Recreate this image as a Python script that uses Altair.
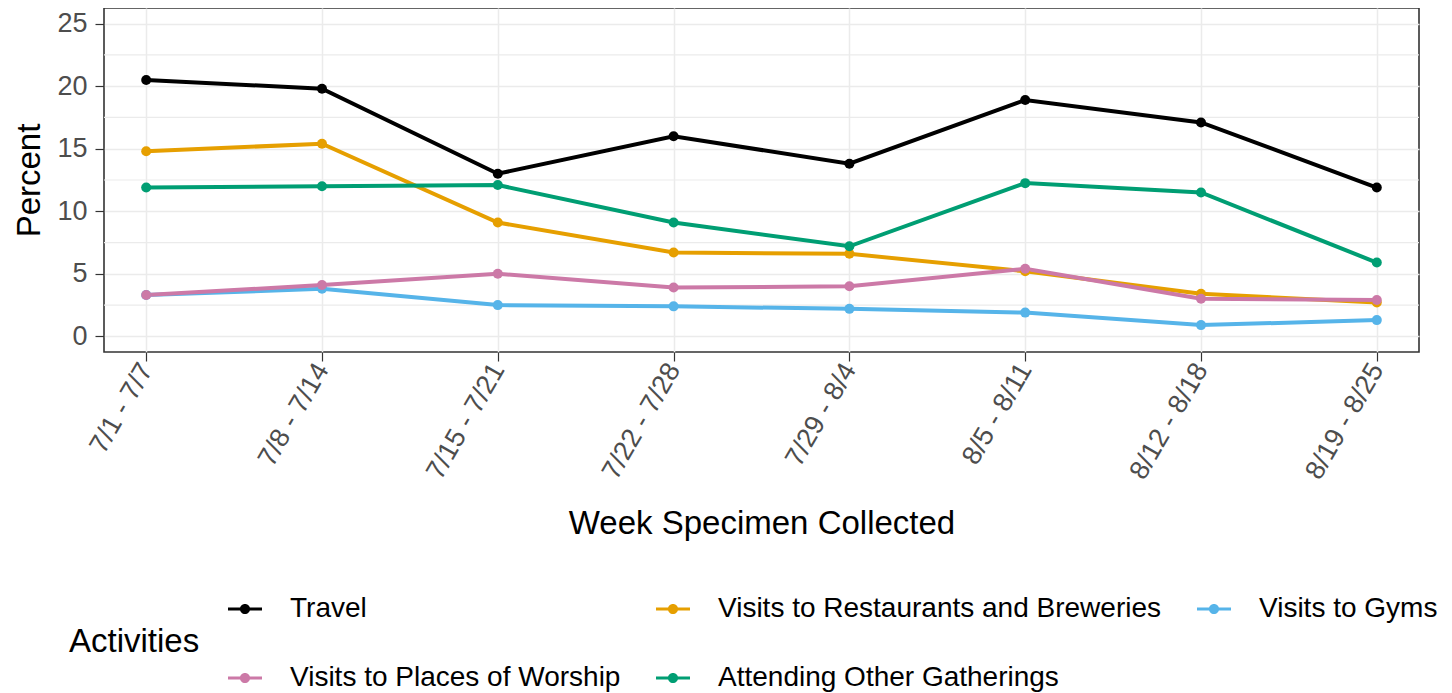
import altair as alt
import pandas as pd

weeks = ["7/1 - 7/7", "7/8 - 7/14", "7/15 - 7/21", "7/22 - 7/28",
         "7/29 - 8/4", "8/5 - 8/11", "8/12 - 8/18", "8/19 - 8/25"]

activities = ["Travel", "Visits to Restaurants and Breweries", "Visits to Gyms",
              "Visits to Places of Worship", "Attending Other Gatherings"]
colors = ["#000000", "#E69F00", "#56B4E9", "#CC79A7", "#009E73"]

travel = [20.5, 19.8, 13.0, 16.0, 13.8, 18.9, 17.1, 11.9]
restaurants = [14.8, 15.4, 9.1, 6.7, 6.6, 5.2, 3.4, 2.7]
gyms = [3.3, 3.8, 2.5, 2.4, 2.2, 1.9, 0.9, 1.3]
worship = [3.3, 4.1, 5.0, 3.9, 4.0, 5.4, 3.0, 2.9]
gatherings = [11.9, 12.0, 12.1, 9.1, 7.2, 12.25, 11.5, 5.9]

major_ticks = [0, 5, 10, 15, 20, 25]
minor_grid = [2.5, 7.5, 12.5, 17.5, 22.5]

series = [travel, restaurants, gyms, worship, gatherings]
rows = []
for i, (name, vals) in enumerate(zip(activities, series)):
    for w, v in zip(weeks, vals):
        rows.append({"Week": w, "Percent": v, "Activities": name,
                     "Series": name, "ord": i})
df = pd.DataFrame(rows)
minor_df = pd.DataFrame({"Percent": minor_grid})

FONT = "Liberation Sans"

x_enc = alt.X("Week:N", sort=weeks,
              scale=alt.Scale(type="point", padding=0.24),
              axis=alt.Axis(title="Week Specimen Collected", labelAngle=300,
                            labelFontSize=27, labelColor="#4D4D4D", labelFont=FONT,
                            labelPadding=4, tickSize=9, tickColor="#333333", tickWidth=1.2,
                            domain=False, grid=True, gridColor="#EBEBEB", gridWidth=1.5,
                            titleFontSize=33, titleFont=FONT, titleFontWeight="normal",
                            titleColor="#000000", titlePadding=24))
y_scale = alt.Scale(domain=[-1.25, 26.25], nice=False, zero=False)
y_enc = alt.Y("Percent:Q", scale=y_scale,
              axis=alt.Axis(title="Percent", values=major_ticks, labelFontSize=27,
                            labelColor="#4D4D4D", labelFont=FONT, labelPadding=8,
                            tickSize=9, tickColor="#333333", tickWidth=1.2, domain=False,
                            grid=True, gridColor="#EBEBEB", gridWidth=1.5,
                            titleFontSize=33, titleFont=FONT, titleFontWeight="normal",
                            titleColor="#000000", titlePadding=10))

minor = alt.Chart(minor_df).mark_rule(color="#EBEBEB", strokeWidth=1.2).encode(
    y=y_enc
)

lines = alt.Chart(df).mark_line(strokeWidth=4).encode(
    x=x_enc, y=y_enc,
    stroke=alt.Stroke("Series:N",
                      scale=alt.Scale(domain=activities[::-1], range=colors[::-1]),
                      legend=None),
    order=alt.Order("ord:Q"),
)

sym = ("M-1,-0.09L1,-0.09L1,0.09L-1,0.09Z "
       "M-0.3,0A0.3,0.3 0 1,1 0.3,0A0.3,0.3 0 1,1 -0.3,0Z")

points = alt.Chart(df).mark_point(filled=True, size=100, opacity=1).encode(
    x=x_enc, y=y_enc,
    color=alt.Color("Activities:N", scale=alt.Scale(domain=activities, range=colors),
                    legend=alt.Legend(orient="none", legendX=-35, legendY=584,
                                      direction="horizontal", columns=3,
                                      title="Activities", titleOrient="left",
                                      titleAnchor="middle", titleBaseline="middle",
                                      titleFontSize=33, titleFont=FONT,
                                      titleFontWeight="normal", titleColor="#000000",
                                      titlePadding=28,
                                      labelFontSize=28, labelFont=FONT, labelColor="#000000",
                                      labelOffset=28, symbolType=sym, symbolSize=1156,
                                      symbolStrokeWidth=0, rowPadding=38,
                                      columnPadding=35, labelLimit=600)),
    order=alt.Order("ord:Q"),
)

chart = alt.layer(minor, lines, points).properties(
    width=1315, height=344,
    padding={"left": 5, "top": 0, "right": 0, "bottom": 0},
).configure_view(stroke="#333333", strokeWidth=1.6)

chart.save("out.html", embed_options={"renderer": "svg", "actions": False})
